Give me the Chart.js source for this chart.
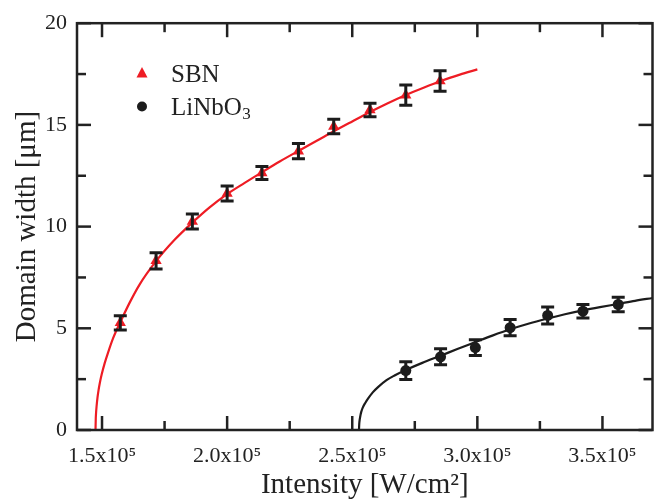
<!DOCTYPE html>
<html><head><meta charset="utf-8">
<script src="https://cdn.jsdelivr.net/npm/chart.js@4.4.0/dist/chart.umd.min.js"></script>
<style>html,body{margin:0;padding:0;background:#fff;overflow:hidden;}#wrap{width:659px;height:503px;position:relative;}canvas{display:block;}</style>
</head><body><div id="wrap"><canvas id="c" width="659" height="503" style="width:659px;height:503px"></canvas></div>
<script>
// Intensity in W/cm^2, domain width in µm
const sbnX   = [1.573e5,1.716e5,1.861e5,2.000e5,2.139e5,2.285e5,2.426e5,2.571e5,2.714e5,2.851e5];
const sbnY   = [5.27,8.32,10.25,11.63,12.63,13.71,14.92,15.73,16.46,17.16];
const sbnErr = [0.35,0.40,0.37,0.37,0.32,0.37,0.36,0.33,0.50,0.50];
const lnX    = [2.714e5,2.853e5,2.992e5,3.131e5,3.281e5,3.422e5,3.563e5];
const lnY    = [2.92,3.60,4.05,5.03,5.63,5.84,6.17];
const lnErr  = [0.44,0.39,0.39,0.40,0.42,0.33,0.36];
// fitted curves
const sbnFitX = [1.474e5,1.475e5,1.476e5,1.478e5,1.482e5,1.486e5,1.491e5,1.499e5,1.511e5,1.524e5,1.544e5,1.573e5,1.61e5,1.65e5,1.716e5,1.79e5,1.861e5,1.93e5,2.0e5,2.07e5,2.14e5,2.21e5,2.285e5,2.36e5,2.43e5,2.5e5,2.571e5,2.64e5,2.714e5,2.785e5,2.857e5,2.93e5,3.0e5];
const sbnFitY = [0,0.55,0.8,1.13,1.6,1.95,2.3,2.75,3.3,3.8,4.5,5.3,6.25,7.15,8.3,9.35,10.2,10.95,11.6,12.15,12.68,13.2,13.72,14.23,14.71,15.17,15.63,16.05,16.47,16.83,17.17,17.47,17.73];
const lnFitX = [2.527e5,2.528e5,2.530e5,2.533e5,2.536e5,2.542e5,2.552e5,2.563e5,2.582e5,2.603e5,2.637e5,2.669e5,2.714e5,2.78e5,2.853e5,2.92e5,2.992e5,3.06e5,3.131e5,3.2e5,3.281e5,3.35e5,3.422e5,3.49e5,3.563e5,3.63e5,3.7e5];
const lnFitY = [0,0.3,0.52,0.73,0.89,1.1,1.33,1.54,1.85,2.11,2.45,2.68,2.95,3.3,3.65,3.98,4.32,4.64,4.95,5.21,5.48,5.69,5.88,6.04,6.2,6.35,6.49];
const xTicks = [1.5e5,2.0e5,2.5e5,3.0e5,3.5e5];
const xTickLabels = ['1.5x10\u2075','2.0x10\u2075','2.5x10\u2075','3.0x10\u2075','3.5x10\u2075'];
const xMinor = [1.75e5,2.25e5,2.75e5,3.25e5];
const yTicks = [0,5,10,15,20];
const yMinor = [2.5,7.5,12.5,17.5];
const seriesNames = ['SBN','LiNbO'];

const RED = 'rgb(238,28,36)';
const INK = '#1c1c1c';
const FONT = "'Liberation Serif','Times New Roman',serif";

const pts = (xs, ys) => xs.map((v,i)=>({x:v,y:ys[i]}));

const errorBars = {
  id:'errorBars',
  afterDatasetsDraw(chart){
    const {ctx, scales:{x,y}} = chart;
    ctx.save(); ctx.strokeStyle = INK; ctx.lineWidth = 3; ctx.lineCap='butt';
    [[sbnX,sbnY,sbnErr],[lnX,lnY,lnErr]].forEach(([xs,ys,es])=>{
      xs.forEach((xv,i)=>{
        const px = x.getPixelForValue(xv);
        const t = y.getPixelForValue(ys[i]+es[i]);
        const b = y.getPixelForValue(ys[i]-es[i]);
        ctx.beginPath();
        ctx.moveTo(px,t); ctx.lineTo(px,b);
        ctx.moveTo(px-6.5,t); ctx.lineTo(px+6.5,t);
        ctx.moveTo(px-6.5,b); ctx.lineTo(px+6.5,b);
        ctx.stroke();
      });
    });
    ctx.restore();
  }
};

const frame = {
  id:'frame',
  afterDraw(chart){
    const {ctx, chartArea:a, scales:{x,y}} = chart;
    ctx.save(); ctx.strokeStyle = '#222'; ctx.lineWidth = 2.5; ctx.lineCap='butt';
    const ln=(x1,y1,x2,y2)=>{ctx.beginPath();ctx.moveTo(x1,y1);ctx.lineTo(x2,y2);ctx.stroke();};
    const xt=(v,L)=>{const p=x.getPixelForValue(v); ln(p,a.bottom,p,a.bottom-L); ln(p,a.top,p,a.top+L);};
    const yt=(v,L)=>{const p=y.getPixelForValue(v); ln(a.left,p,a.left+L,p); ln(a.right,p,a.right-L,p);};
    xTicks.forEach(v=>xt(v,14)); xMinor.forEach(v=>xt(v,9));
    yTicks.forEach(v=>yt(v,14)); yMinor.forEach(v=>yt(v,9));
    ctx.strokeRect(a.left, a.top, a.right-a.left, a.bottom-a.top);
    // legend
    ctx.fillStyle = RED;
    const tx=142, ty=73;
    ctx.beginPath(); ctx.moveTo(tx,ty-6); ctx.lineTo(tx+5.5,ty+4.5); ctx.lineTo(tx-5.5,ty+4.5); ctx.closePath(); ctx.fill();
    ctx.fillStyle = INK;
    ctx.beginPath(); ctx.arc(142,106.5,5,0,Math.PI*2); ctx.fill();
    ctx.fillStyle = '#222'; ctx.textBaseline='alphabetic'; ctx.textAlign='left';
    ctx.font = "25px "+FONT;
    ctx.fillText(seriesNames[0], 171, 82);
    ctx.fillText(seriesNames[1], 171, 115);
    const w = ctx.measureText(seriesNames[1]).width;
    ctx.font = "17px "+FONT;
    ctx.fillText('3', 171+w+0.5, 119);
    ctx.restore();
  }
};

new Chart(document.getElementById('c'), {
  type:'scatter',
  data:{datasets:[
    {label:'SBN fit', data:pts(sbnFitX,sbnFitY), showLine:true, borderColor:RED, borderWidth:2.2, pointRadius:0, cubicInterpolationMode:'monotone'},
    {label:'LiNbO3 fit', data:pts(lnFitX,lnFitY), showLine:true, borderColor:INK, borderWidth:2.2, pointRadius:0, cubicInterpolationMode:'monotone'},
    {label:'SBN', data:pts(sbnX,sbnY), pointStyle:'triangle', pointRadius:6.5, backgroundColor:RED, borderColor:RED, borderWidth:0},
    {label:'LiNbO3', data:pts(lnX,lnY), pointStyle:'circle', pointRadius:5.5, backgroundColor:INK, borderColor:INK, borderWidth:0}
  ]},
  options:{
    responsive:false, maintainAspectRatio:false, animation:false, devicePixelRatio:1,
    layout:{padding:{top:19,right:4,left:0,bottom:0}},
    plugins:{legend:{display:false}, tooltip:{enabled:false}},
    scales:{
      x:{type:'linear', min:1.4e5, max:3.7e5,
        afterBuildTicks:s=>{s.ticks=xTicks.map(v=>({value:v}));},
        afterFit:s=>{s.height=73;},
        grid:{display:false, drawTicks:false}, border:{display:false},
        ticks:{padding:13, color:'#222', font:{family:FONT,size:22}, maxRotation:0, autoSkip:false,
          callback:(v)=>xTickLabels[xTicks.indexOf(v)]},
        title:{display:true, text:'Intensity [W/cm\u00B2]', color:'#222', font:{family:FONT,size:29}, padding:{top:0,bottom:0}}
      },
      y:{type:'linear', min:0, max:20,
        afterBuildTicks:s=>{s.ticks=yTicks.map(v=>({value:v}));},
        afterFit:s=>{s.width=77;},
        grid:{display:false, drawTicks:false}, border:{display:false},
        ticks:{padding:10, color:'#222', font:{family:FONT,size:22}},
        title:{display:true, text:'Domain width [\u03BCm]', color:'#222', font:{family:FONT,size:29}, padding:{top:10,bottom:0}}
      }
    }
  },
  plugins:[errorBars, frame]
});
</script></body></html>
